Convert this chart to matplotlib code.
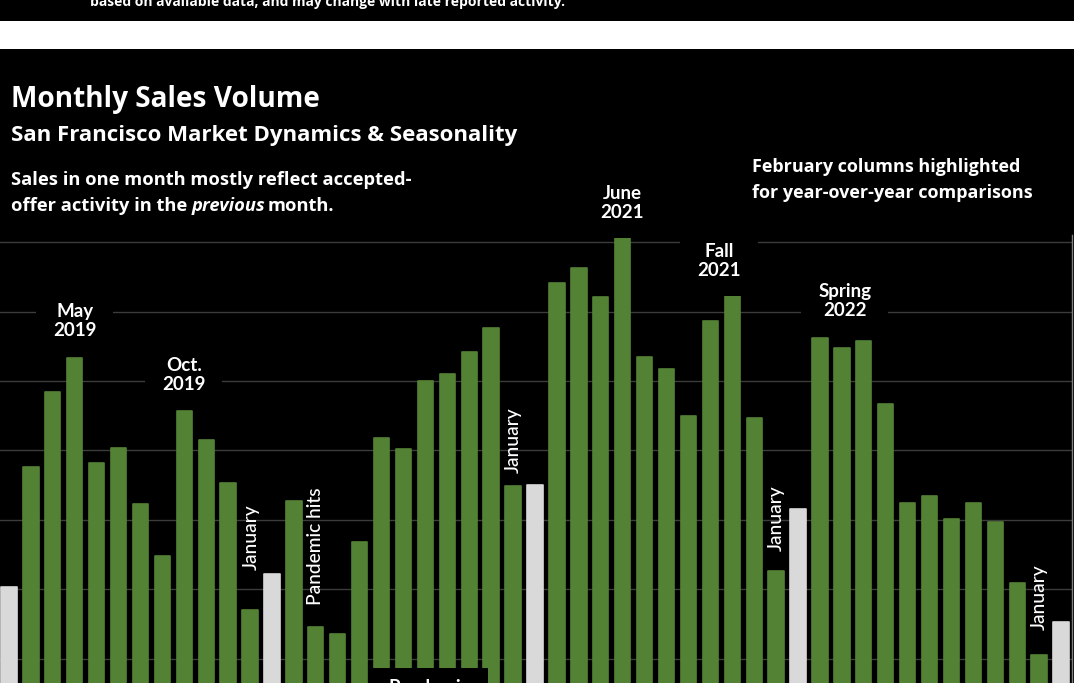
import matplotlib
matplotlib.use("Agg")
import matplotlib.pyplot as plt
from matplotlib.patches import Rectangle

# Monthly closed sales, February 2019 through February 2023
months = [
    "Feb 2019", "Mar 2019", "Apr 2019", "May 2019", "Jun 2019", "Jul 2019",
    "Aug 2019", "Sep 2019", "Oct 2019", "Nov 2019", "Dec 2019", "Jan 2020",
    "Feb 2020", "Mar 2020", "Apr 2020", "May 2020", "Jun 2020", "Jul 2020",
    "Aug 2020", "Sep 2020", "Oct 2020", "Nov 2020", "Dec 2020", "Jan 2021",
    "Feb 2021", "Mar 2021", "Apr 2021", "May 2021", "Jun 2021", "Jul 2021",
    "Aug 2021", "Sep 2021", "Oct 2021", "Nov 2021", "Dec 2021", "Jan 2022",
    "Feb 2022", "Mar 2022", "Apr 2022", "May 2022", "Jun 2022", "Jul 2022",
    "Aug 2022", "Sep 2022", "Oct 2022", "Nov 2022", "Dec 2022", "Jan 2023",
    "Feb 2023",
]
sales = [
    404, 576, 685, 733, 582, 603, 523, 448, 657, 615, 553, 370,
    422, 527, 346, 335, 468, 618, 602, 700, 710, 742, 777, 549,
    550, 841, 863, 821, 908, 735, 717, 650, 787, 827, 647, 426,
    516, 762, 748, 758, 667, 525, 535, 501, 524, 497, 409, 306,
    353,
]
grid_values = [300, 400, 500, 600, 700, 800, 900]

GREEN = "#548235"
FEB = "#d9d9d9"
W, H = 1074, 683
HEAD = ["Open Sans", "DejaVu Sans"]
BODY = ["Lato", "DejaVu Sans"]

plt.rcParams["font.family"] = BODY

fig = plt.figure(figsize=(W / 100, H / 100), dpi=100, facecolor="black")


def fx(px):
    return px / W


def fy(py):
    return 1 - py / H


# header strip: black band, white gap, then the chart panel
fig.patches.append(Rectangle((0, fy(49)), 1, fy(21) - fy(49), transform=fig.transFigure,
                             facecolor="white", edgecolor="none", zorder=0))
fig.text(fx(90), fy(6), "based on available data, and may change with late reported activity.",
         color="white", fontsize=10.0, fontweight="bold", family=HEAD,
         ha="left", va="baseline")

# plot area
ax = fig.add_axes([fx(-2), 0, fx(1074), fy(235)])
ax.set_facecolor("black")
x = list(range(len(sales)))
colors = [FEB if m.startswith("Feb") else GREEN for m in months]
ax.bar(x, sales, width=0.7, color=colors, edgecolor=colors, linewidth=1.2,
       joinstyle="round", zorder=2)
ax.set_xlim(-0.5, len(sales) - 0.5)
ax.set_ylim(265, 910.5)
ax.set_yticks(grid_values)
ax.set_xticks([])
ax.tick_params(length=0, labelleft=False)
ax.grid(axis="y", color="#3c3c3c", linewidth=1, zorder=0)
ax.set_axisbelow(True)
for side in ("top", "left", "bottom"):
    ax.spines[side].set_visible(False)
ax.spines["right"].set_color("#808080")
ax.spines["right"].set_linewidth(1)

# titles and notes
white_bold = dict(color="white", fontweight="bold", family=HEAD)
fig.text(fx(11), fy(107), "Monthly Sales Volume", fontsize=20.2, va="baseline", **white_bold)
fig.text(fx(11), fy(141), "San Francisco Market Dynamics & Seasonality", fontsize=16,
         va="baseline", **white_bold)
fig.text(fx(11), fy(185), "Sales in one month mostly reflect accepted-", fontsize=13.2,
         va="baseline", **white_bold)
t1 = fig.text(fx(11), fy(211), "offer activity in the ", fontsize=13.2, va="baseline",
              **white_bold)
t2 = fig.add_artist(matplotlib.text.Annotation(
    "previous", xy=(1, 0), xycoords=t1, ha="left", va="bottom", fontsize=13.2,
    fontstyle="italic", **white_bold))
fig.add_artist(matplotlib.text.Annotation(
    "month.", xy=(1, 0), xycoords=t2, xytext=(1.0, 0), textcoords="offset points",
    ha="left", va="bottom", fontsize=13.2, **white_bold))
fig.text(fx(752), fy(172), "February columns highlighted", fontsize=13, va="baseline",
         **white_bold)
fig.text(fx(752), fy(198), "for year-over-year comparisons", fontsize=13, va="baseline",
         **white_bold)

# callouts above the bars
box = dict(boxstyle="square,pad=0.9", facecolor="black", edgecolor="none")
callouts = [
    ("May\n2019", 3.0, 786.6),
    ("Oct.\n2019", 7.98, 708.8),
    ("June\n2021", 27.97, 956.6),
    ("Fall\n2021", 32.4, 873.0),
    ("Spring\n2022", 38.14, 815.4),
]
for txt, xi, yi in callouts:
    ax.text(xi, yi, txt, color="white", fontsize=13.5, fontweight="bold", ha="center",
            va="center", linespacing=1.2, bbox=box, zorder=3, clip_on=False)

vertical_notes = [
    ("January", 11.04, 427.8),
    ("Pandemic hits", 14.0, 377.4),
    ("January", 23.0, 567.6),
    ("January", 35.0, 455.2),
    ("January", 47.0, 341.4),
]
for txt, xi, yi in vertical_notes:
    ax.text(xi, yi, txt, color="white", fontsize=13.8, fontweight="medium", rotation=90,
            ha="center", va="bottom", zorder=3)

# pandemic-era label box at the foot of the chart
ax.add_patch(Rectangle((16.6, 200), 21.84 - 16.6, 286.6 - 200, facecolor="black",
                       edgecolor="none", zorder=4))
ax.text(19.2, 270.7, "Pandemic\nrebound", color="white", fontsize=13.5, fontweight="bold",
        ha="center", va="top", zorder=5)

fig.savefig("out.png", dpi=100, facecolor="black")
